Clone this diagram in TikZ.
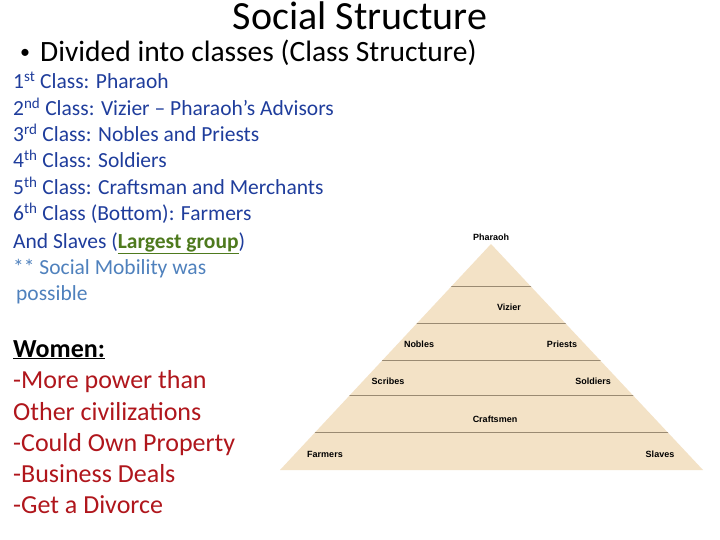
\documentclass[tikz,border=0pt]{standalone}
\usepackage{fontspec}
\setmainfont{Carlito}
\newfontfamily\arialf{Liberation Sans}
\definecolor{tblue}{HTML}{1F3D9C}
\definecolor{tgrey}{HTML}{4F81BD}
\definecolor{tgreen}{HTML}{4E7A1E}
\definecolor{tred}{HTML}{B0161C}
\definecolor{sand}{HTML}{F3E2C6}
\definecolor{tline}{HTML}{9A8A72}
\begin{document}
\begin{tikzpicture}[x=1pt,y=-1pt,
  bl/.style={anchor=west,text=tblue,font=\fontsize{21.5}{23}\selectfont,inner sep=0,text height=14pt,text depth=4pt},
  rd/.style={anchor=west,text=tred,font=\fontsize{26}{28}\selectfont,inner sep=0,text height=17pt,text depth=5pt},
  pl/.style={font=\arialf\bfseries\fontsize{9}{10}\selectfont,inner sep=0}]
\useasboundingbox (0,0) rectangle (720,540);
\fill[white] (0,0) rectangle (720,540);
\node (title) at (360,16) {\fontsize{40}{42}\selectfont Social Structure};
\node[anchor=west,inner sep=0] (bul) at (20,54) {\fontsize{20}{22}\selectfont\textbullet};
\node[anchor=west,inner sep=0] (b1) at (40,53) {\fontsize{29.5}{32}\selectfont Divided into classes (Class Structure)};
\node[bl] (l1) at (13,84) {1\textsuperscript{st} Class: Pharaoh};
\node[bl] (l2) at (13,111) {2\textsuperscript{nd} Class: Vizier -- Pharaoh’s Advisors};
\node[bl] (l3) at (13,137) {3\textsuperscript{rd} Class: Nobles and Priests};
\node[bl] (l4) at (13,163) {4\textsuperscript{th} Class: Soldiers};
\node[bl] (l5) at (13,190) {5\textsuperscript{th} Class: Craftsman and Merchants};
\node[bl] (l6) at (13,216) {6\textsuperscript{th} Class (Bottom): Farmers};
\node[bl] (l7) at (13,243) {And Slaves (\textcolor{tgreen}{\bfseries\underline{Largest group}})};
\node[bl,text=tgrey] (l8) at (13,269) {** Social Mobility was};
\node[bl,text=tgrey] (l9) at (16,295) {possible};
\node[anchor=west,inner sep=0,font=\fontsize{26}{28}\selectfont\bfseries,text height=17pt,text depth=5pt] (w) at (13,351) {\underline{Women:}};
\node[rd] (r1) at (13,382) {-More power than};
\node[rd] (r2) at (13,414) {Other civilizations};
\node[rd] (r3) at (13,445) {-Could Own Property};
\node[rd] (r4) at (13,476) {-Business Deals};
\node[rd] (r5) at (13,507) {-Get a Divorce};
% pyramid
\fill[sand] (491,244) -- (703,470) -- (280,470) -- cycle;
\begin{scope}
\clip (491,244) -- (703,470) -- (280,470) -- cycle;
\foreach \yy in {286,323,360,395,432}{\draw[tline,line width=0.8pt] (270,\yy) -- (710,\yy);}
\end{scope}
\node[pl] (p0) at (491,237) {Pharaoh};
\node[pl] (p1) at (509,307) {Vizier};
\node[pl] (p2) at (419,344) {Nobles};
\node[pl] (p3) at (562,344) {Priests};
\node[pl] (p4) at (388,381) {Scribes};
\node[pl] (p5) at (593,381) {Soldiers};
\node[pl] (p6) at (495,419) {Craftsmen};
\node[pl] (p7) at (325,454) {Farmers};
\node[pl] (p8) at (660,454) {Slaves};
\end{tikzpicture}
\end{document}
